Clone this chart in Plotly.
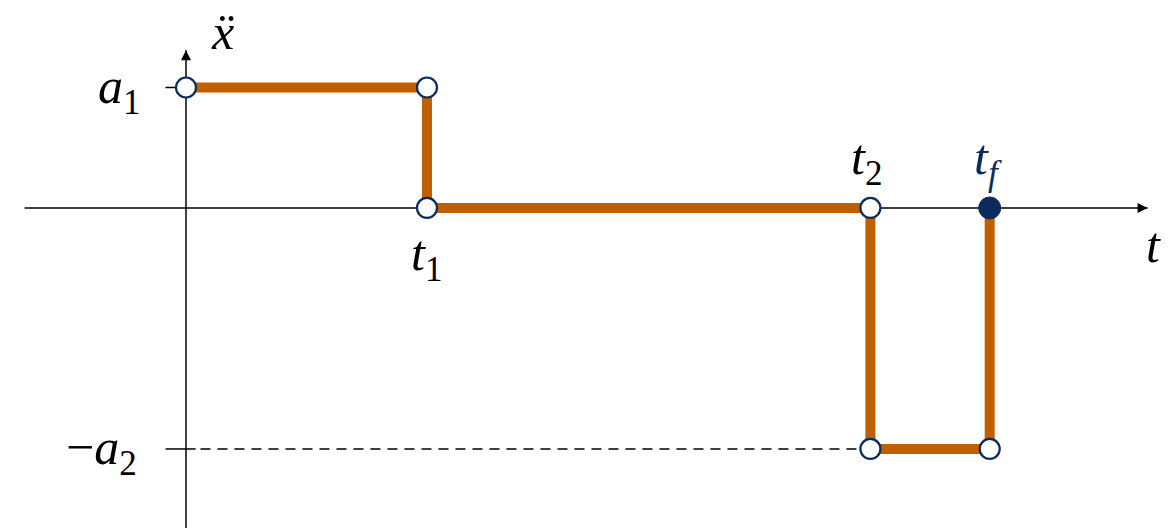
import plotly.graph_objects as go

# Bang-off-bang acceleration profile
t_switch = [0.0, 2.0, 5.68, 6.67]        # 0, t1, t2, tf
a1, a2 = 1.0, 2.0

t0, t1, t2, tf = t_switch
path_t = [t0, t1, t1, t2, t2, tf, tf]
path_a = [a1, a1, 0.0, 0.0, -a2, -a2, 0.0]

open_t = [t0, t1, t1, t2, t2, tf]
open_a = [a1, a1, 0.0, 0.0, -a2, -a2]

orange = "#C05F00"
navy = "#0B2B5C"
font_family = "Liberation Serif"

x_lo, x_hi = -1.5436, 8.183
y_lo, y_hi = -2.656, 1.726
x_axis_end, y_axis_end = 7.98, 1.31

fig = go.Figure()

line_style = dict(color="black", width=1.5)

# coordinate axes
fig.add_trace(go.Scatter(x=[-1.34, x_axis_end], y=[0, 0], mode="lines",
                         line=line_style, hoverinfo="skip"))
fig.add_trace(go.Scatter(x=[0, 0], y=[y_lo - 0.1, y_axis_end], mode="lines",
                         line=line_style, hoverinfo="skip"))
fig.add_trace(go.Scatter(x=[x_axis_end, 0], y=[0, y_axis_end], mode="markers",
                         marker=dict(symbol=["arrow-right", "arrow-up"], size=10,
                                     color="black", line=dict(width=0)),
                         hoverinfo="skip"))

# tick marks on the vertical axis
fig.add_trace(go.Scatter(x=[-0.17, 0, None, -0.17, 0.08], y=[a1, a1, None, -a2, -a2],
                         mode="lines", line=line_style, hoverinfo="skip"))

# dashed guide at -a2
fig.add_trace(go.Scatter(x=[0.12, t2], y=[-a2, -a2], mode="lines",
                         line=dict(color="black", width=1.5, dash="10px,7px"),
                         hoverinfo="skip"))

# acceleration profile
fig.add_trace(go.Scatter(x=path_t, y=path_a, mode="lines",
                         line=dict(color=orange, width=10),
                         hoverinfo="skip"))

fig.add_trace(go.Scatter(x=open_t, y=open_a, mode="markers",
                         marker=dict(size=20, color="white",
                                     line=dict(color=navy, width=2.2)),
                         hoverinfo="skip"))

fig.add_trace(go.Scatter(x=[tf], y=[0.0], mode="markers",
                         marker=dict(size=22, color=navy,
                                     line=dict(color=navy, width=1)),
                         hoverinfo="skip"))

labels = [
    (-0.55, a1 - 0.02, "<i>a</i><sub>1</sub>", "black"),
    (-0.7, -a2 - 0.02, "−<i>a</i><sub>2</sub>", "black"),
    (0.3, 1.46, "<i>ẍ</i>", "black"),
    (t1, -0.41, "<i>t</i><sub>1</sub>", "black"),
    (t2 - 0.03, 0.39, "<i>t</i><sub>2</sub>", "black"),
    (tf - 0.01, 0.39, "<i>t</i><sub><i>f</i></sub>", navy),
    (8.03, -0.31, "<i>t</i>", "black"),
]
for lx, ly, txt, col in labels:
    fig.add_annotation(x=lx, y=ly, text=txt, showarrow=False,
                       font=dict(family=font_family, size=50, color=col))

fig.update_layout(
    width=1172, height=528,
    margin=dict(l=0, r=0, t=0, b=0),
    paper_bgcolor="white", plot_bgcolor="white",
    font=dict(family=font_family),
    xaxis=dict(range=[x_lo, x_hi], visible=False, fixedrange=True),
    yaxis=dict(range=[y_lo, y_hi], visible=False, fixedrange=True),
    showlegend=False,
)

fig.write_html("out.html")
